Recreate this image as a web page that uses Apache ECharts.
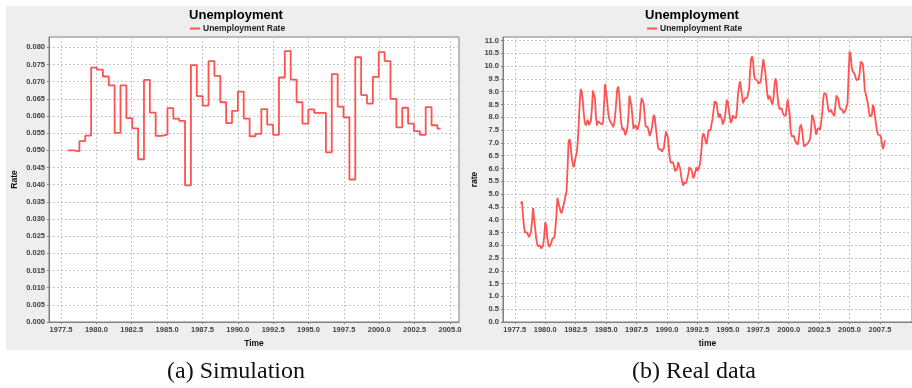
<!DOCTYPE html>
<html>
<head>
<meta charset="utf-8">
<script src="https://cdn.jsdelivr.net/npm/echarts@6/dist/echarts.min.js"></script>
<style>
  html, body { margin: 0; padding: 0; background: #fff; }
  #main { width: 912px; height: 388px; }
</style>
</head>
<body>
<div id="main"></div>
<script>
// (a) simulation: held values, one every ~5 months
const simStart = 1977.97;
const simPeriod = 0.415;
const simEnd = 2004.34;
const simRate = [
  0.0500, 0.0497, 0.0527, 0.0543, 0.0741, 0.0735, 0.0715, 0.0689,
  0.0551, 0.0689, 0.0594, 0.0564, 0.0474, 0.0705, 0.0610, 0.0542,
  0.0546, 0.0623, 0.0592, 0.0586, 0.0398, 0.0748, 0.0658, 0.0630,
  0.0760, 0.0717, 0.0640, 0.0579, 0.0615, 0.0671, 0.0592, 0.0541,
  0.0548, 0.0620, 0.0575, 0.0545, 0.0712, 0.0789, 0.0706, 0.0640,
  0.0578, 0.0619, 0.0609, 0.0609, 0.0494, 0.0722, 0.0627, 0.0596,
  0.0415, 0.0771, 0.0661, 0.0636, 0.0714, 0.0786, 0.0760, 0.0650,
  0.0567, 0.0624, 0.0578, 0.0556, 0.0545, 0.0626, 0.0573, 0.0563
];

// (b) real data: monthly, Jan 1978 .. Dec 2007
const realStartYear = 1978;
const realRate = [
  4.62, 4.72, 4.20, 3.75, 3.50, 3.45, 3.50, 3.45, 3.32, 3.42, 3.55, 3.95,   // 1978
  4.45, 4.05, 3.70, 3.30, 3.05, 2.97, 2.97, 2.98, 2.87, 2.90, 3.00, 3.35,   // 1979
  3.90, 3.75, 3.30, 3.05, 2.93, 2.95, 3.10, 3.25, 3.20, 3.30, 3.65, 4.15,   // 1980
  4.85, 4.85, 4.50, 4.33, 4.25, 4.40, 4.55, 4.75, 4.72, 5.10, 6.00, 7.05,   // 1981
  7.15, 6.95, 6.45, 6.20, 6.05, 6.25, 6.45, 6.60, 7.00, 7.75, 8.60, 9.10,   // 1982
  9.00, 8.65, 8.15, 7.80, 7.68, 7.80, 7.90, 7.70, 7.65, 7.85, 8.35, 9.05,   // 1983
  9.00, 8.75, 8.00, 7.68, 7.85, 7.85, 7.78, 7.72, 7.72, 7.80, 8.50, 9.30,   // 1984
  9.00, 8.65, 8.20, 7.95, 7.84, 7.90, 7.72, 7.62, 7.77, 8.10, 8.60, 9.10,   // 1985
  9.20, 8.85, 8.20, 7.75, 7.50, 7.58, 7.45, 7.30, 7.28, 7.60, 8.05, 8.85,   // 1986
  8.80, 8.45, 8.00, 7.55, 7.62, 7.70, 7.65, 7.51, 7.50, 7.85, 8.40, 8.75,   // 1987
  8.80, 8.55, 8.05, 7.65, 7.58, 7.62, 7.45, 7.27, 7.30, 7.55, 7.85, 8.10,   // 1988
  8.00, 7.60, 7.25, 6.88, 6.75, 6.82, 6.75, 6.66, 6.60, 6.80, 7.15, 7.45,   // 1989
  7.50, 7.20, 6.70, 6.33, 6.22, 6.22, 6.25, 6.08, 5.90, 5.84, 5.98, 6.25,   // 1990
  6.25, 6.00, 5.70, 5.48, 5.33, 5.45, 5.46, 5.43, 5.50, 5.78, 6.05, 6.00,   // 1991
  5.95, 5.82, 5.62, 5.72, 5.75, 6.05, 5.90, 5.88, 6.08, 6.30, 6.75, 7.25,   // 1992
  7.38, 7.25, 7.08, 6.95, 7.20, 7.50, 7.54, 7.50, 7.75, 7.95, 8.30, 8.62,   // 1993
  8.68, 8.55, 8.20, 7.98, 8.15, 8.20, 7.93, 7.72, 7.75, 7.95, 8.30, 8.68,   // 1994
  8.60, 8.30, 8.00, 7.78, 7.88, 8.08, 8.00, 7.97, 7.97, 8.30, 8.90, 9.20,   // 1995
  9.40, 9.15, 8.85, 8.55, 8.50, 8.75, 8.80, 8.75, 8.95, 9.10, 9.85, 10.30,  // 1996
  10.38, 10.15, 9.60, 9.48, 9.52, 9.45, 9.33, 9.40, 9.36, 9.55, 9.95, 10.27, // 1997
  10.22, 9.75, 9.30, 8.87, 8.70, 8.85, 8.75, 8.60, 8.50, 8.75, 9.25, 9.52,  // 1998
  9.35, 8.85, 8.45, 8.32, 8.30, 8.36, 8.20, 8.10, 8.03, 8.05, 8.40, 8.70,   // 1999
  8.75, 8.10, 7.45, 7.25, 7.20, 7.28, 7.13, 7.03, 6.97, 6.93, 7.20, 7.60,   // 2000
  7.72, 7.55, 7.20, 6.86, 6.88, 6.93, 6.93, 6.99, 7.03, 7.15, 7.45, 8.10,   // 2001
  8.00, 7.85, 7.60, 7.32, 7.48, 7.58, 7.55, 7.52, 7.78, 8.15, 8.70, 8.95,   // 2002
  9.02, 8.90, 8.60, 8.30, 8.20, 8.22, 8.30, 8.15, 8.08, 8.05, 8.45, 8.85,   // 2003
  8.88, 8.72, 8.42, 8.32, 8.38, 8.30, 8.16, 8.22, 8.28, 8.35, 8.55, 9.60,   // 2004
  10.57, 10.45, 10.00, 9.80, 9.87, 9.70, 9.55, 9.45, 9.42, 9.50, 9.75, 10.18, // 2005
  10.18, 10.10, 9.70, 9.05, 8.92, 8.85, 8.55, 8.25, 8.03, 8.02, 8.10, 8.49, // 2006
  8.38, 8.05, 7.75, 7.48, 7.33, 7.32, 7.30, 7.22, 6.95, 6.76, 6.72, 7.10    // 2007
];

const simYearTicks = [1977.5, 1980, 1982.5, 1985, 1987.5, 1990, 1992.5, 1995, 1997.5, 2000, 2002.5, 2005];
const realYearTicks = [1977.5, 1980, 1982.5, 1985, 1987.5, 1990, 1992.5, 1995, 1997.5, 2000, 2002.5, 2005, 2007.5];
const simRateTicks = [0, 0.005, 0.01, 0.015, 0.02, 0.025, 0.03, 0.035, 0.04, 0.045, 0.05, 0.055, 0.06, 0.065, 0.07, 0.075, 0.08];
const realRateTicks = [0, 0.5, 1, 1.5, 2, 2.5, 3, 3.5, 4, 4.5, 5, 5.5, 6, 6.5, 7, 7.5, 8, 8.5, 9, 9.5, 10, 10.5, 11];

const simData = simRate.map((v, i) => [simStart + i * simPeriod, v]);
simData.push([simEnd, simRate[simRate.length - 1]]);
const realData = realRate.map((v, i) => [realStartYear + i / 12, v]);

const SANS = 'Liberation Sans';
const RED = '#ff5252';
const tickFont = { fontFamily: SANS, fontSize: 7.5, fontWeight: 'bold', color: '#404040' };
const nameFont = { fontFamily: SANS, fontSize: 8.5, fontWeight: 'bold', color: '#111' };

function xAxisOf(gridIndex, min, max, ticks, name) {
  return {
    type: 'value', gridIndex, min, max, name,
    nameLocation: 'middle', nameGap: 17, nameTextStyle: nameFont,
    axisLine: { show: true, lineStyle: { color: '#808080', width: 1 } },
    axisTick: { show: true, length: 2, customValues: ticks, lineStyle: { color: '#808080' } },
    axisLabel: { customValues: ticks, margin: 4, ...tickFont, formatter: v => v.toFixed(1) },
    splitLine: { show: true, lineStyle: { color: '#c8c8c8', type: [2, 2], width: 1 } }
  };
}
function yAxisOf(gridIndex, max, ticks, digits, name, gap) {
  return {
    type: 'value', gridIndex, min: 0, max, name,
    nameLocation: 'middle', nameGap: gap, nameTextStyle: nameFont,
    axisLine: { show: true, lineStyle: { color: '#808080', width: 1 } },
    axisTick: { show: true, length: 2, customValues: ticks, lineStyle: { color: '#808080' } },
    axisLabel: { customValues: ticks, margin: 4, ...tickFont, formatter: v => v.toFixed(digits) },
    splitLine: { show: true, lineStyle: { color: '#c8c8c8', type: [2, 2], width: 1 } }
  };
}
function legendAt(left) {
  return {
    left, top: 24, padding: 0, selectedMode: false,
    data: ['Unemployment Rate'], icon: 'rect', itemWidth: 10, itemHeight: 2,
    textStyle: { fontFamily: SANS, fontSize: 8.5, fontWeight: 'bold', color: '#222', padding: [0, 0, 0, -2] }
  };
}
function titleAt(left) {
  return {
    text: 'Unemployment', left, top: 9, padding: 0, textAlign: 'center',
    textStyle: { fontFamily: SANS, fontSize: 13, fontWeight: 'bold', color: '#000' }
  };
}

const chart = echarts.init(document.getElementById('main'), null, { renderer: 'canvas' });
chart.setOption({
  animation: false,
  backgroundColor: '#ffffff',
  title: [titleAt(236), titleAt(692)],
  legend: [legendAt(190), legendAt(647)],
  graphic: [
    { type: 'rect', z: -10, shape: { x: 6, y: 6, width: 906, height: 344 }, style: { fill: '#eeeeee' } },
    { type: 'text', x: 236, y: 372, style: { text: '(a) Simulation', font: '24px "Liberation Serif"', fill: '#111', align: 'center', verticalAlign: 'middle' } },
    { type: 'text', x: 694, y: 372, style: { text: '(b) Real data', font: '24px "Liberation Serif"', fill: '#111', align: 'center', verticalAlign: 'middle' } }
  ],
  grid: [
    { left: 49, top: 37, width: 410, height: 285, show: true, backgroundColor: '#ffffff', borderColor: '#808080', borderWidth: 1 },
    { left: 503, top: 37, width: 418, height: 285, show: true, backgroundColor: '#ffffff', borderColor: '#808080', borderWidth: 1 }
  ],
  xAxis: [
    xAxisOf(0, 1976.65, 2005.64, simYearTicks, 'Time'),
    xAxisOf(1, 1976.53, 2010.13, realYearTicks, 'time')
  ],
  yAxis: [
    yAxisOf(0, 0.083, simRateTicks, 3, 'Rate', 30),
    yAxisOf(1, 11.14, realRateTicks, 1, 'rate', 24)
  ],
  series: [
    {
      name: 'Unemployment Rate', type: 'line', xAxisIndex: 0, yAxisIndex: 0,
      step: 'end', showSymbol: false, data: simData,
      lineStyle: { color: RED, width: 1.8 }, itemStyle: { color: RED }
    },
    {
      name: 'Unemployment Rate', type: 'line', xAxisIndex: 1, yAxisIndex: 1,
      showSymbol: false, data: realData,
      lineStyle: { color: RED, width: 1.8 }, itemStyle: { color: RED }
    }
  ]
});
</script>
</body>
</html>
